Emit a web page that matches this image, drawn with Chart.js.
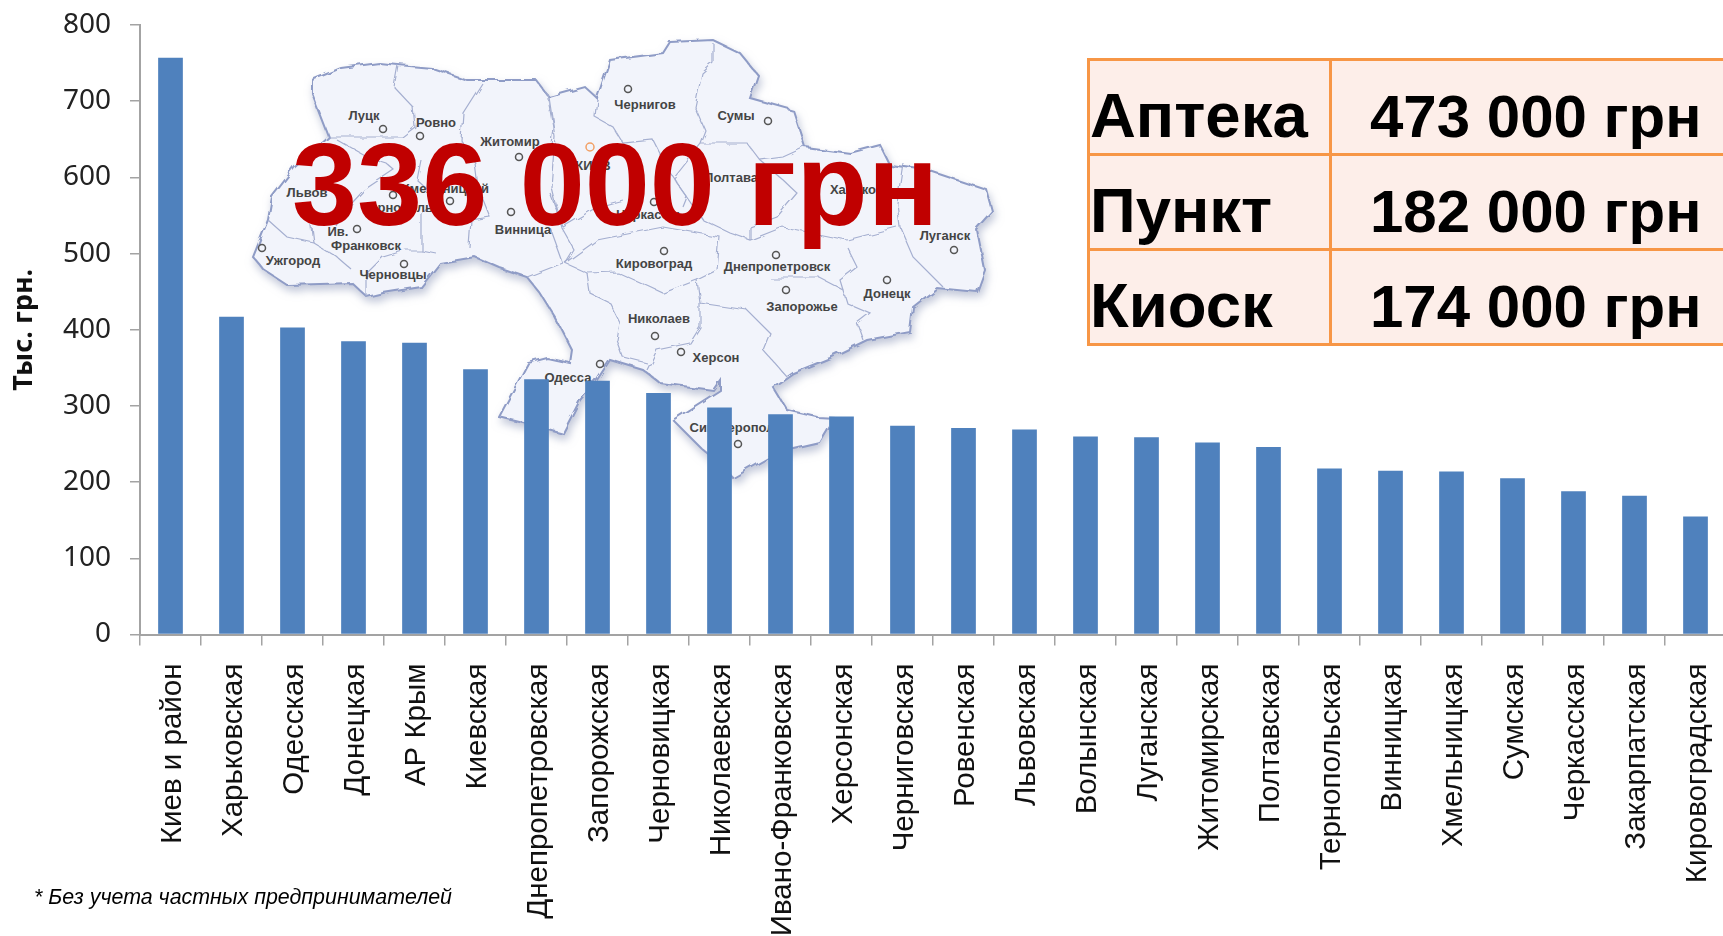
<!DOCTYPE html>
<html lang="ru">
<head>
<meta charset="utf-8">
<title>Тыс. грн.</title>
<script src="https://cdn.jsdelivr.net/npm/chart.js@4"></script>
<style>
  html, body { margin: 0; padding: 0; background: #fff; overflow: hidden; }
  #page { position: relative; width: 1723px; height: 936px; overflow: hidden; }
  #map { position: absolute; left: 0; top: 0; z-index: 0; }
  #map .border { fill: none; stroke: #a5afd0; stroke-width: 1.2; }
  #map .city { fill: none; stroke: #555; stroke-width: 1.5; }
  #map text { font: bold 13px "Liberation Sans", sans-serif; fill: #444; text-anchor: middle; }
  #chartBox { position: absolute; left: 0; top: 0; z-index: 1; }
  #total { position: absolute; z-index: 2; left: 292px; top: 117px; color: #c00000; white-space: nowrap;
    font: bold 117px/136px "Liberation Sans", sans-serif; }
  #stores { position: absolute; z-index: 2; left: 1087px; top: 58px; width: 750px; table-layout: fixed;
    border-collapse: collapse; background: #fdeee9; font: bold 60px/1 "Liberation Sans", sans-serif; color: #000; }
  #stores td { border: 3px solid #f79646; height: 92px; padding: 0; white-space: nowrap; vertical-align: bottom; }
  #stores td:first-child { width: 239px; font-size: 63.5px; padding-left: 0; }
  #stores td:last-child { padding-left: 38px; }
  #stores span { display: block; position: relative; top: -6px; }
  #note { position: absolute; z-index: 2; left: 34px; top: 885px; font: italic 21.4px "Liberation Sans", sans-serif; color: #000; }
</style>
</head>
<body>
<div id="page">
  <svg id="map" width="1723" height="936" viewBox="0 0 1723 936"></svg>
  <div id="chartBox"><canvas id="salesChart" width="1726" height="936"></canvas></div>
  <div id="total">336 000 грн</div>
  <table id="stores"></table>
  <div id="note">* Без учета частных предпринимателей</div>
</div>
<script>
const regions = ["Киев и район", "Харьковская", "Одесская", "Донецкая", "АР Крым", "Киевская",
  "Днепропетровская", "Запорожская", "Черновицкая", "Николаевская", "Ивано-Франковская", "Херсонская",
  "Черниговская", "Ровенская", "Львовская", "Волынская", "Луганская", "Житомирская", "Полтавская",
  "Тернопольская", "Винницкая", "Хмельницкая", "Сумская", "Черкасская", "Закарпатская", "Кировоградская"];
const salesValues = [757, 417, 403, 385, 383, 348, 335, 333, 317, 298, 289, 286,
  274, 271, 269, 260, 259, 252, 246, 218, 215, 214, 205, 188, 182, 155];
const yTicks = [0, 100, 200, 300, 400, 500, 600, 700, 800];
const storeNames = ["Аптека", "Пункт", "Киоск"];
const storeValues = ["473 000 грн", "182 000 грн", "174 000 грн"];

const stores = document.getElementById("stores");
storeNames.forEach((name, i) => {
  const row = stores.insertRow();
  row.insertCell().innerHTML = "<span>" + name + "</span>";
  row.insertCell().innerHTML = "<span>" + storeValues[i] + "</span>";
});

// background map of Ukraine, only a rough tracing of the picture
const mapOutline = "312,80 341,68 379,63 398,65 432,68 467,80 497,80 536,80 549,97 585,87 597,98 610,60 663,53 670,42 713,40 740,53 758,75 750,98 793,110 805,147 850,153 880,145 890,165 927,170 987,190 993,212 977,230 985,270 977,292 937,288 913,307 910,332 867,340 830,358 793,373 773,387 787,410 817,417 835,418 820,443 777,453 733,478 727,470 700,447 673,420 720,390 720,380 713,390 660,383 643,370 610,360 597,380 580,400 563,433 540,427 499,417 528,363 547,358 570,363 572,350 555,317 540,293 527,277 500,268 475,257 440,263 421,287 383,293 367,297 352,283 287,285 264,270 253,257 268,220 272,197 295,167 329,137 312,93";
const mapBorders = [
  "713,43 713,63 702,73 695,107 705,130 700,143",
  "700,143 747,143 760,160 783,157 805,147",
  "597,98 595,117 613,127 623,143 653,140 670,173 687,197 683,207",
  "547,93 553,127 550,153",
  "565,263 597,240 663,227 720,237 717,270 697,280 663,293 650,287 617,272 587,273 565,263",
  "697,280 700,303 747,310 770,333 763,350 787,377",
  "770,278 820,278 843,290 847,303 870,313 857,323 863,340",
  "847,247 857,267 840,280 843,290",
  "897,203 900,227 913,257 943,287",
  "847,240 897,227",
  "903,163 897,203",
  "760,160 783,180 797,193 777,217 750,227 750,240",
  "700,143 673,177 703,220 730,233 750,240 783,227 847,240",
  "587,273 590,293 610,303 620,323 617,340 623,357 647,363",
  "700,303 700,327 690,343 657,350 647,370",
  "550,227 563,263 527,277",
  "550,193 563,227 597,207 623,200",
  "398,65 394,87 413,107 415,127 402,137 367,137 329,137",
  "482,83 463,113 461,140 475,163 478,187",
  "337,140 367,157 386,163 394,170 364,190 352,203",
  "421,160 417,180 436,197 421,213 421,250 436,253",
  "478,187 490,217 471,220 469,247",
  "549,97 555,137 551,187 561,227 574,250 566,263",
  "268,220 287,237 314,243 337,257 352,270",
  "312,227 314,243",
  "352,203 337,227",
  "367,297 367,273 383,257 406,250 421,250"
];
const cityRings = [[383,129],[420,136],[519,157],[628,89],[768,121],[954,250],[776,255],[887,280],[786,290],
  [664,251],[655,336],[681,352],[600,364],[738,444],[511,212],[450,201],[393,195],[357,229],[404,264],[262,248],[654,202]];
const cityNames = [["Луцк",364,120],["Ровно",436,127],["Житомир",510,146],["КИЕВ",593,170],["Чернигов",645,109],
  ["Сумы",736,120],["Полтава",731,182],["Харьков",857,194],["Луганск",945,240],["Днепропетровск",777,271],
  ["Донецк",887,298],["Запорожье",802,311],["Кировоград",654,268],["Николаев",659,323],["Херсон",716,362],
  ["Одесса",568,382],["Симферополь",736,432],["Винница",523,234],["Хмельницкий",445,193],["Тернополь",398,212],
  ["Львов",307,197],["Ив.",338,236],["Франковск",366,250],["Черновцы",393,279],["Ужгород",293,265],["Черкассы",648,219]];

let mapSvg = '<defs><filter id="soft" x="-5%" y="-5%" width="110%" height="115%">'
  + '<feTurbulence type="fractalNoise" baseFrequency="0.07" numOctaves="2" seed="4" result="noise"/>'
  + '<feDisplacementMap in="SourceGraphic" in2="noise" scale="7" result="rough"/>'
  + '<feDropShadow in="rough" dx="2" dy="5" stdDeviation="4" flood-color="#98a2c0" flood-opacity="0.6"/>'
  + '</filter></defs><g filter="url(#soft)">';
mapSvg += '<polygon points="' + mapOutline + '" fill="#f2f4fb" stroke="#8f9cc6" stroke-width="2"/>';
mapBorders.forEach((b) => { mapSvg += '<polyline class="border" points="' + b + '"/>'; });
mapSvg += '</g>';
cityRings.forEach((c) => { mapSvg += '<circle class="city" cx="' + c[0] + '" cy="' + c[1] + '" r="3.5"/>'; });
mapSvg += '<circle cx="590" cy="147" r="4" fill="none" stroke="#f2a065" stroke-width="1.5"/>';
cityNames.forEach((c) => { mapSvg += '<text x="' + c[1] + '" y="' + c[2] + '">' + c[0] + '</text>'; });
document.getElementById("map").innerHTML = mapSvg;

const axisGrey = "#a3a3a3";
const ctx = document.getElementById("salesChart").getContext("2d");
const chart = new Chart(ctx, {
  type: "bar",
  data: {
    labels: regions,
    datasets: [
      {
        label: "Тыс. грн.",
        data: salesValues,
        backgroundColor: "#4f81bd",
        barPercentage: 0.405,
        categoryPercentage: 1,
      },
    ],
  },
  options: {
    responsive: false,
    animation: false,
    layout: { padding: { top: 25, left: 0, right: 0, bottom: 0 } },
    plugins: {
      legend: { display: false },
      tooltip: { enabled: false },
    },
    scales: {
      x: {
        afterFit: (scale) => {
          scale.height = 301.5;
          scale.paddingLeft = 0;
          scale.paddingRight = 0;
        },
        border: { color: axisGrey, width: 2 },
        grid: { drawOnChartArea: false, drawTicks: true, tickLength: 11, color: axisGrey, lineWidth: 1.5 },
        ticks: {
          autoSkip: false,
          minRotation: 90,
          maxRotation: 90,
          padding: 18,
          labelOffset: 2,
          color: "#111",
          font: { family: "Liberation Sans", size: 29.5 },
        },
      },
      y: {
        min: 0,
        max: 800,
        afterFit: (scale) => {
          scale.width = 140;
          scale.paddingTop = 0;
          scale.paddingBottom = 0;
        },
        afterBuildTicks: (scale) => { scale.ticks = yTicks.map((v) => ({ value: v })); },
        border: { color: axisGrey, width: 2 },
        grid: { drawOnChartArea: false, drawTicks: true, tickLength: 10, color: axisGrey, lineWidth: 1.5 },
        title: {
          display: true,
          text: "Тыс. грн.",
          color: "#111",
          font: { family: "Noto Sans", size: 27, weight: "bold" },
          padding: { top: 8, bottom: 0 },
        },
        ticks: {
          padding: 19,
          color: "#222",
          font: { family: "Noto Sans", size: 28 },
        },
      },
    },
  },
});
</script>
</body>
</html>
